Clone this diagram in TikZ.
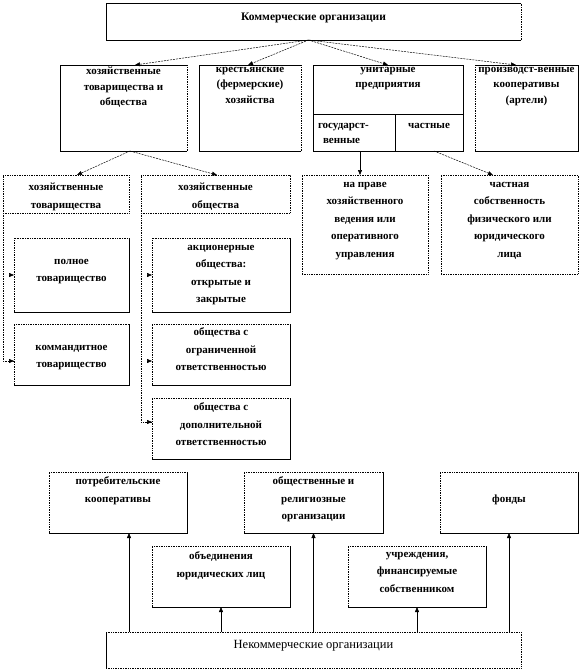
\documentclass[tikz,border=0pt]{standalone}
\usepackage{fontspec}
\setmainfont{Liberation Serif}
\usetikzlibrary{arrows.meta}
\newcommand{\tb}[4]{\parbox[c][#2pt][t]{#1pt}{\centering\vspace*{#3pt}#4\par}}
\newcommand{\lb}[4]{\parbox[c][#2pt][t]{#1pt}{\raggedright\vspace*{#3pt}#4\par}}
\begin{document}
\begin{tikzpicture}[x=1pt,y=-1pt,
  bx/.style={inner sep=0pt, outer sep=0pt, anchor=north west, font=\fontsize{11}{17.5}\selectfont\bfseries},
  rtwo/.style={font=\fontsize{11}{15.5}\selectfont\bfseries},
  sbord/.style={draw, line width=0.7pt},
  dbord/.style={draw, densely dotted, line width=0.7pt},
  sline/.style={line width=0.7pt},
  conn/.style={-{Triangle[length=5pt,width=4pt]}, line width=0.5pt},
  dconn/.style={conn, dash pattern=on 2pt off 1pt},
  dline/.style={densely dotted, line width=0.7pt}]
\useasboundingbox (0,0) rectangle (582,672);

% top
\node[bx,font=\fontsize{11.5}{14}\selectfont\bfseries] (top) at (106,3) {\tb{415}{37}{10}{Коммерческие организации}};

% row 2
\node[bx,rtwo] (A) at (60,65) {\tb{127}{86}{2}{хозяйственные\\ товарищества и\\ общества}};
\node[bx,rtwo] (B) at (199,65) {\tb{102}{86}{2}{крестьянские\\ (фермерские)\\ хозяйства}};
\node[bx,rtwo,sbord] (C) at (313,65) {\tb{150}{86}{2}{унитарные\\ предприятия}};
\node[bx,rtwo] (D) at (475,65) {\tb{103}{86}{2}{производст-венные\\ кооперативы\\ (артели)}};
\node[bx,rtwo,sbord] (gov) at (313,114) {\lb{82}{37}{9}{\hspace*{5pt}государст-\\ \hspace*{10pt}венные}};
\node[bx,rtwo,sbord] (priv) at (395,114) {\tb{68}{37}{9}{частные}};

% borders with a dotted right edge
\foreach \n in {top,A,B}{
  \draw[sline] (\n.north east) -- (\n.north west) -- (\n.south west) -- (\n.south east);
  \draw[dline] (\n.south east) -- (\n.north east);
}
\draw[sline] (D.north west) -- (D.north east) -- (D.south east) -- (D.south west);
\draw[dline] (D.south west) -- (D.north west);

% row 3
\node[bx,dbord] (ht) at (3,175) {\tb{126}{38}{8}{хозяйственные\\ товарищества}};
\node[bx,dbord] (hs) at (141,175) {\tb{149}{38}{8}{хозяйственные\\ общества}};
\node[bx,dbord] (pravo) at (302,175) {\tb{126}{99}{7}{на праве\\ хозяйственного\\ ведения или\\ оперативного\\ управления}};
\node[bx,dbord] (chast) at (441,175) {\tb{137}{99}{7}{частная\\ собственность\\ физического или\\ юридического\\ лица}};

% row 4
\node[bx] (poln) at (14,238) {\tb{115}{74}{21}{полное\\ товарищество}};
\node[bx] (kom) at (14,324) {\tb{115}{61}{21}{коммандитное\\ товарищество}};
\node[bx] (akc) at (152,238) {\tb{138}{74}{7}{акционерные\\ общества:\\ открытые и\\ закрытые}};
\node[bx] (ogr) at (152,324) {\tb{138}{61}{4}{общества с\\ ограниченной\\ ответственностью}};
\node[bx] (dop) at (152,398) {\tb{138}{61}{5}{общества с\\ дополнительной\\ ответственностью}};

% bottom
\node[bx] (potr) at (49,472) {\tb{138}{61}{5}{потребительские\\ кооперативы}};
\node[bx] (obsh) at (244,472) {\tb{139}{61}{5}{общественные и\\ религиозные\\ организации}};
\node[bx] (fond) at (440,472) {\tb{138}{61}{23}{фонды}};
\node[bx] (obed) at (152,546) {\tb{138}{61}{6}{объединения\\ юридических лиц}};
\node[bx] (uchr) at (348,546) {\tb{138}{61}{6}{учреждения,\\ финансируемые\\ собственником}};
\node[bx,font=\fontsize{12.5}{15}\selectfont] (nekom) at (106,632) {\tb{415}{36}{8}{Некоммерческие организации}};
\draw[dline] (nekom.north west) -- (nekom.north east) -- (nekom.south east) -- (nekom.south west);
\draw[sline] (nekom.south west) -- (nekom.north west);

% half-dotted borders
\foreach \n in {poln,kom,akc,ogr,dop,potr,obsh,fond,obed,uchr}{
  \draw[dline] (\n.south west) |- (\n.north east);
  \draw[sline] (\n.south west) -| (\n.north east);
}

% connectors from top
\coordinate (o) at ([xshift=-5pt]top.south);
\draw[dconn] (o) -- ([xshift=11.5pt]A.north);
\draw[dconn] (o) -- ([xshift=-2pt]B.north);
\draw[dconn] (o) -- (C.north);
\draw[dconn] (o) -- ([xshift=-10.5pt]D.north);

% from A
\draw[dconn] ([xshift=6.5pt]A.south) -- ([xshift=11pt]ht.north);
\draw[dconn] ([xshift=6.5pt]A.south) -- ([xshift=1.5pt]hs.north);

% from unitary cells
\draw[conn] ([xshift=6pt]gov.south) -- ([xshift=6pt]gov.south |- pravo.north);
\draw[dconn] ([xshift=5pt]priv.south) -- ([xshift=-16.5pt]chast.north);

% left branch
\draw[dline] (ht.south west) |- ([yshift=-6.5pt]kom.west);
\draw[conn] ([xshift=-4pt]poln.west) -- (poln.west);
\draw[conn] ([xshift=-4pt,yshift=-6.5pt]kom.west) -- ([yshift=-6.5pt]kom.west);

% middle branch
\draw[dline] (hs.south west) |- ([yshift=6.5pt]dop.west);
\draw[conn] ([xshift=-4pt]akc.west) -- (akc.west);
\draw[conn] ([xshift=-4pt,yshift=-6.5pt]ogr.west) -- ([yshift=-6.5pt]ogr.west);
\draw[conn] ([xshift=-4pt,yshift=6.5pt]dop.west) -- ([yshift=6.5pt]dop.west);

% bottom connectors
\draw[conn] ([xshift=11pt]potr.south |- nekom.north) -- ([xshift=11pt]potr.south);
\draw[conn] (obed.south |- nekom.north) -- (obed.south);
\draw[conn] (obsh.south |- nekom.north) -- (obsh.south);
\draw[conn] (uchr.south |- nekom.north) -- (uchr.south);
\draw[conn] (fond.south |- nekom.north) -- (fond.south);
\end{tikzpicture}
\end{document}
